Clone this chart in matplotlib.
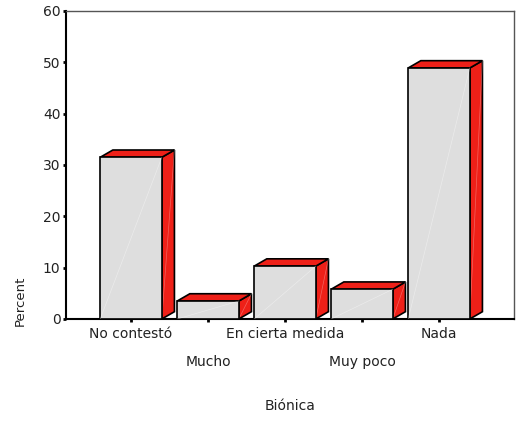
import matplotlib
matplotlib.use("Agg")
import matplotlib.pyplot as plt
from matplotlib.patches import Polygon

categories = ["No contestó", "Mucho", "En cierta medida", "Muy poco", "Nada"]
percent = [31.5, 3.5, 10.3, 5.8, 48.9]
yticks = [0, 10, 20, 30, 40, 50, 60]

front_color = "#dedede"
red = "#ee2018"
half = 0.4      # half bar width in data units
dx, dy = 0.164, 1.42  # 3d depth offset

fig = plt.figure(figsize=(5.17, 4.21), dpi=100)
ax = fig.add_axes([0.1277, 0.2423, 0.8665, 0.7316])

for i, h in enumerate(percent):
    x0, x1 = i - half, i + half
    # side face
    ax.add_patch(Polygon([(x1, 0), (x1 + dx, dy), (x1 + dx, h + dy), (x1, h)],
                         closed=True, facecolor=red, edgecolor="black", lw=1.2, zorder=2))
    # top face
    ax.add_patch(Polygon([(x0, h), (x0 + dx, h + dy), (x1 + dx, h + dy), (x1, h)],
                         closed=True, facecolor=red, edgecolor="black", lw=1.2, zorder=2))
    # front face
    ax.add_patch(Polygon([(x0, 0), (x1, 0), (x1, h), (x0, h)],
                         closed=True, facecolor=front_color, edgecolor="black", lw=1.2, zorder=3))
    ax.plot([x0, x1], [0, h], color="white", lw=0.5, alpha=0.4, zorder=3.5)
    ax.plot([x1, x1 + dx], [0, h + dy], color="white", lw=0.5, alpha=0.3, zorder=2.5)

ax.set_xlim(-0.844, 4.974)
ax.set_ylim(0, 60)

ax.set_yticks(yticks)
ax.set_yticklabels([str(t) for t in yticks], fontsize=10, color="#222222")
ax.set_xticks(range(len(categories)))
ax.set_xticklabels([])
ax.tick_params(axis="both", length=2, width=2, pad=2, color="black")

for i, name in enumerate(categories):
    off = -10.8 if i % 2 == 0 else -31
    ax.annotate(name, xy=(i, 0), xycoords=("data", "axes fraction"),
                xytext=(0, off), textcoords="offset points",
                ha="center", va="center", fontsize=10, color="#222222")

for s in ["left", "bottom"]:
    ax.spines[s].set_linewidth(1.5)
    ax.spines[s].set_color("black")
for s in ["top", "right"]:
    ax.spines[s].set_linewidth(1.0)
    ax.spines[s].set_color("#555555")

fig.text(20 / 517, 1 - 301 / 421, "Percent", rotation=90, ha="center", va="center",
         fontsize=9.5, color="#222222")
fig.text(290 / 517, 1 - 406 / 421, "Biónica", ha="center", va="center",
         fontsize=10, color="#222222")

fig.savefig("out.png", dpi=100)
plt.close(fig)
